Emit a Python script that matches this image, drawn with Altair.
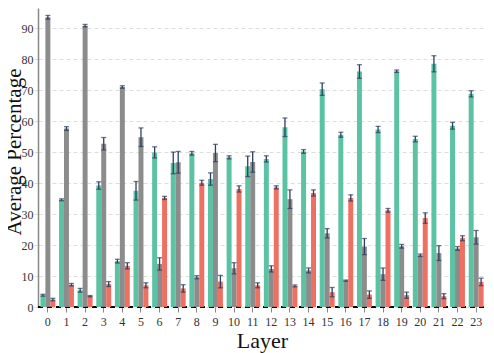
import altair as alt
import pandas as pd

layers = list(range(24))
series = ["A", "B", "C"]
colors = ["#52bf9e", "#868686", "#ee675a"]

green_vals = [3.8, 34.6, 5.4, 39.2, 14.8, 37.5, 49.9, 46.5, 49.6, 41.3, 48.3, 45.4,
              47.8, 58.0, 50.2, 70.3, 55.6, 76.0, 57.3, 76.1, 54.2, 78.5, 58.5, 68.8]
gray_vals = [93.5, 57.6, 90.8, 52.7, 71.0, 54.8, 13.9, 46.7, 9.6, 49.7, 12.5, 46.8,
             12.3, 34.8, 11.8, 23.8, 8.5, 19.5, 10.6, 19.6, 16.7, 17.4, 18.9, 22.5]
red_vals = [2.4, 7.2, 3.5, 7.4, 13.3, 7.0, 35.2, 6.0, 40.1, 8.2, 38.1, 7.0,
            38.6, 6.8, 36.8, 4.8, 35.2, 4.0, 31.2, 3.8, 28.7, 3.5, 22.2, 8.1]

green_err = [0.3, 0.3, 0.6, 1.2, 0.6, 3.0, 1.8, 3.5, 0.6, 2.0, 0.5, 3.3,
             1.0, 3.0, 0.6, 2.0, 0.8, 2.2, 1.0, 0.4, 0.9, 2.6, 1.1, 1.0]
gray_err = [0.6, 0.6, 0.4, 2.0, 0.4, 3.0, 2.0, 3.5, 0.5, 2.8, 1.8, 3.3,
            1.0, 3.0, 0.8, 1.5, 0.2, 2.6, 2.0, 0.6, 0.4, 2.4, 0.6, 2.2]
red_err = [0.4, 0.4, 0.2, 0.8, 1.0, 0.8, 0.5, 1.2, 0.8, 2.0, 1.0, 0.8,
           0.5, 0.3, 1.0, 1.5, 1.0, 1.2, 0.6, 1.0, 1.7, 0.8, 0.8, 1.2]

rows = []
for s, vals, errs in zip(series, [green_vals, gray_vals, red_vals], [green_err, gray_err, red_err]):
    for l, v, e in zip(layers, vals, errs):
        rows.append({"Layer": l, "series": s, "value": v, "lo": v - e, "hi": v + e})
df = pd.DataFrame(rows)

W, H = 448, 299

x_scale = alt.Scale(paddingInner=0.2, paddingOuter=0.13)
x_axis = alt.Axis(title="Layer", labelAngle=0, domain=False, ticks=True,
                  tickColor="#888888", tickSize=5, labelFont="Liberation Serif",
                  labelFontSize=12, labelColor="#333333", labelPadding=4,
                  labelOverlap=False,
                  titleFont="Liberation Serif", titleFontSize=22,
                  titleFontWeight="normal", titleColor="#111111",
                  titleBaseline="alphabetic", titleY=40.5)
y_scale = alt.Scale(domain=[0, 96.5], nice=False)
y_axis = alt.Axis(title="Average Percentage", values=list(range(0, 100, 10)),
                  domainColor="#888888", domainWidth=1.5, ticks=True, tickColor="#dddddd",
                  tickSize=4, grid=True, gridColor="#dddddd", gridDash=[4, 3],
                  labelFont="Liberation Serif", labelFontSize=12, labelColor="#333333",
                  labelPadding=1, labelOverlap=False,
                  titleFont="Liberation Serif", titleFontSize=21, titleFontWeight="normal",
                  titleColor="#111111", titleX=-17.5, titleY=143.5, titleAlign="center",
                  titleBaseline="alphabetic", titleAngle=270)

def X():
    return alt.X("Layer:O", scale=x_scale, axis=x_axis)

def Y(field):
    return alt.Y(field, scale=y_scale, axis=y_axis)

color_enc = alt.Color("series:N", scale=alt.Scale(domain=series, range=colors), legend=None)
xo = alt.XOffset("series:N", scale=alt.Scale(domain=series, paddingInner=0, paddingOuter=0))

base = alt.Chart(df)

baseline = base.mark_rule(color="black", strokeWidth=1.5, strokeDash=[5, 4]).encode(
    y=alt.datum(0, scale=y_scale, axis=y_axis), x=alt.value(0), x2=alt.value(W))

bars = base.mark_bar(opacity=0.95).encode(
    x=X(), xOffset=xo, y=Y("value:Q"), color=color_enc)

err = base.mark_rule(color="#2d3f5e", strokeWidth=1.3).encode(
    x=X(), xOffset=xo, y=Y("lo:Q"), y2="hi:Q")
cap_hi = base.mark_tick(color="#2d3f5e", thickness=1.3, size=5, orient="horizontal").encode(
    x=X(), xOffset=xo, y=Y("hi:Q"))
cap_lo = base.mark_tick(color="#2d3f5e", thickness=1.3, size=5, orient="horizontal").encode(
    x=X(), xOffset=xo, y=Y("lo:Q"))

chart = alt.layer(baseline, bars, err, cap_hi, cap_lo).properties(
    width=W, height=H,
    autosize=alt.AutoSizeParams(type="none"),
    padding={"left": 30, "top": 0, "right": 0, "bottom": 46},
).configure_view(stroke=None).configure_axis(labelFlush=False)

chart.save("out.html", embed_options={"renderer": "svg", "actions": False})
